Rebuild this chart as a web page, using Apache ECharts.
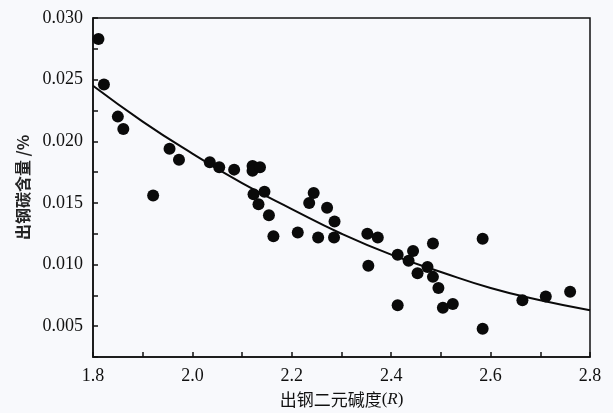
<!DOCTYPE html>
<html>
<head>
<meta charset="utf-8">
<script src="https://cdn.jsdelivr.net/npm/echarts@6/dist/echarts.min.js"></script>
<style>
html,body{margin:0;padding:0;background:#f8f9fc;}
#chart{width:613px;height:413px;}
</style>
</head>
<body>
<div id="chart"></div>
<script>
// Observed points: basicity R and steel carbon content (%)
const basicityR = [
  1.811, 1.822, 1.850, 1.861,
  1.954, 1.973, 1.921, 2.035, 2.054, 2.084, 2.121, 2.121, 2.136, 2.123, 2.145, 2.133, 2.154, 2.163,
  2.212, 2.244, 2.235, 2.271, 2.286, 2.253, 2.285, 2.352, 2.373, 2.354,
  2.413, 2.413, 2.444, 2.435, 2.453, 2.484, 2.473, 2.484, 2.495, 2.504, 2.524, 2.584, 2.584,
  2.664, 2.711, 2.760
];
const carbonPct = [
  0.0283, 0.0246, 0.0220, 0.0210,
  0.0194, 0.0185, 0.0156, 0.0183, 0.0179, 0.0177, 0.0180, 0.0176, 0.0179, 0.0157, 0.0159, 0.0149, 0.0140, 0.0123,
  0.0126, 0.0158, 0.0150, 0.0146, 0.0135, 0.0122, 0.0122, 0.0125, 0.0122, 0.0099,
  0.0067, 0.0108, 0.0111, 0.0103, 0.0093, 0.0117, 0.0098, 0.0090, 0.0081, 0.0065, 0.0068, 0.0121, 0.0048,
  0.0071, 0.0074, 0.0078
];
// Fitted trend curve
const fitR = [1.8, 1.9, 2.0, 2.1, 2.2, 2.3, 2.4, 2.5, 2.6, 2.7, 2.8];
const fitC = [0.0245, 0.0216, 0.0190, 0.0166, 0.0145, 0.0125, 0.0108, 0.0094, 0.0081, 0.0071, 0.0063];

const xMin = 1.8, xMax = 2.8, xStep = 0.1;
const yMin = 0.0025, yMax = 0.030, yStep = 0.0025;

const chart = echarts.init(document.getElementById('chart'), null, {renderer: 'canvas'});
const scatterData = basicityR.map((r, i) => [r, carbonPct[i]]);
const fitData = fitR.map((r, i) => [r, fitC[i]]);

const axisColor = '#111111';
chart.setOption({
  backgroundColor: '#f8f9fc',
  animation: false,
  grid: {
    left: 93, right: 23, top: 18, bottom: 52,
    show: true, borderColor: axisColor, borderWidth: 1.5, backgroundColor: 'transparent'
  },
  xAxis: {
    type: 'value', min: xMin, max: xMax, interval: xStep,
    axisLine: {show: true, lineStyle: {color: axisColor, width: 1.5}},
    axisTick: {show: true, inside: true, length: 5, lineStyle: {color: axisColor, width: 1.5}},
    splitLine: {show: false},
    axisLabel: {
      color: '#111111', fontFamily: 'Liberation Serif', fontSize: 18, margin: 10,
      formatter: function (v) {
        const k = Math.round(v * 10);
        return (k % 2 === 0) ? v.toFixed(1) : '';
      }
    },
    name: '{a|出钢二元碱度}{b|(}{c|R}{b|)}',
    nameLocation: 'middle', nameGap: 34,
    nameTextStyle: {
      rich: {
        a: {fontFamily: 'Noto Sans CJK SC', fontSize: 17, color: '#111111'},
        b: {fontFamily: 'Liberation Serif', fontSize: 17, color: '#111111'},
        c: {fontFamily: 'Liberation Serif', fontSize: 17, fontStyle: 'italic', color: '#111111'}
      }
    }
  },
  yAxis: {
    type: 'value', min: yMin, max: yMax, interval: yStep,
    axisLine: {show: true, lineStyle: {color: axisColor, width: 1.5}},
    axisTick: {show: true, inside: true, length: 5, lineStyle: {color: axisColor, width: 1.5}},
    splitLine: {show: false},
    axisLabel: {
      color: '#111111', fontFamily: 'Liberation Serif', fontSize: 18, margin: 10,
      formatter: function (v) {
        const q = v / 0.005;
        return (Math.abs(q - Math.round(q)) < 1e-6) ? v.toFixed(3) : '';
      }
    },
    name: '出钢碳含量 /%',
    nameLocation: 'middle', nameGap: 62,
    nameTextStyle: {fontFamily: 'Noto Sans CJK SC', fontSize: 16, fontWeight: 'bold', color: '#222222'}
  },
  series: [
    {
      type: 'scatter', data: scatterData, symbol: 'circle', symbolSize: 12,
      itemStyle: {color: '#0a0a0a', opacity: 1}, z: 3
    },
    {
      type: 'line', data: fitData, smooth: true, showSymbol: false, symbol: 'none',
      lineStyle: {color: '#0a0a0a', width: 2}, z: 2
    }
  ]
});
</script>
</body>
</html>
